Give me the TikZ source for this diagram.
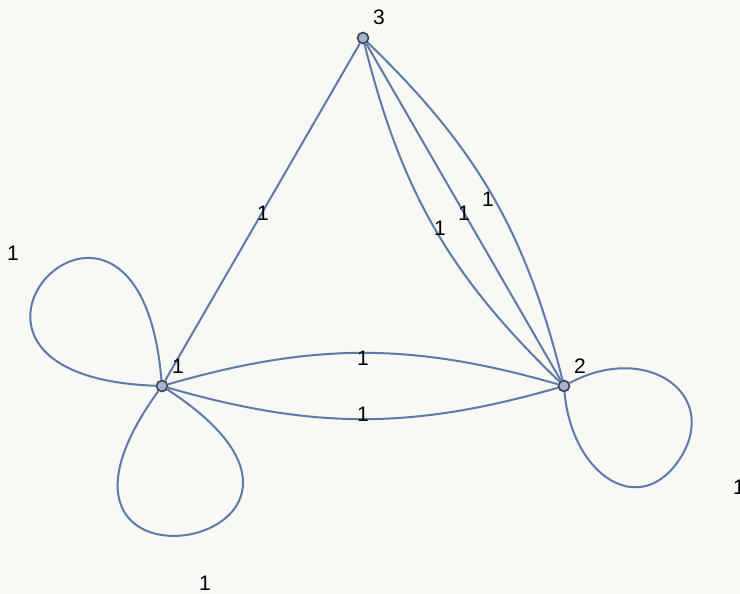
\documentclass[tikz,border=0pt]{standalone}
\usepackage{fontspec}
\setmainfont{Liberation Sans}
\usepackage{tikz}
\usetikzlibrary{arrows.meta,positioning,calc}
\definecolor{edgeblue}{HTML}{5F7AAA}
\definecolor{vfill}{HTML}{A3B3D0}
\definecolor{vdraw}{HTML}{3C4048}
\definecolor{paper}{HTML}{F8F8F4}
\pgfdeclarelayer{paperlayer}
\pgfdeclarelayer{edgelayer}
\pgfsetlayers{paperlayer,edgelayer,main}

\begin{document}
\begin{tikzpicture}[x=1pt,y=-1pt,
  vertex/.style={circle,fill=vfill,draw=vdraw,line width=1.6pt,inner sep=0pt,minimum size=11pt},
  edge/.style={draw=edgeblue,line width=2pt},
  lbl/.style={inner sep=0pt,font=\fontsize{21}{21}\selectfont}]
 \begin{pgfonlayer}{paperlayer}
 \fill[paper] (0,0) rectangle (740,594);
 \end{pgfonlayer}
 \useasboundingbox (0,0) rectangle (740,594);
 \foreach \name/\x/\y in {n1/162/386,n2/564/386,n3/363/38}
   \node[vertex] (\name) at (\x,\y) {};
 % edges go under the vertices
 \begin{pgfonlayer}{edgelayer}
 \draw[edge] (n1) -- (n3);
 \draw[edge] (n3) -- (n2);
 \draw[edge] (n3) to[bend left=16] (n2);
 \draw[edge] (n3) to[bend right=16] (n2);
 \draw[edge] (n1) to[bend left=16] (n2);
 \draw[edge] (n1) to[bend right=16] (n2);
 \draw[edge] (n1) .. controls +(-280,-10) and +(-24,-279) .. (n1);
 \draw[edge] (n1) .. controls +(-170,235) and +(243,158) .. (n1);
 \draw[edge] (n2) .. controls +(82,-44) and (720,393) .. (681,457)
   .. controls (641,521) and +(8,90) .. (n2);
 \end{pgfonlayer}
 % vertex names
 \node[lbl] (t1) at (178,366) {1};
 \node[lbl] (t2) at (580,366) {2};
 \node[lbl] (t3) at (379,17) {3};
 % edge weights
 \foreach \name/\x/\y in {w13/263/213,w32/464/213,w32a/440/228,w32b/488/199,
   w12a/363/358,w12b/363/414,w11a/13/253,w11b/205/583,w22/739/487}
   \node[lbl] (\name) at (\x,\y) {1};
\end{tikzpicture}
\end{document}
